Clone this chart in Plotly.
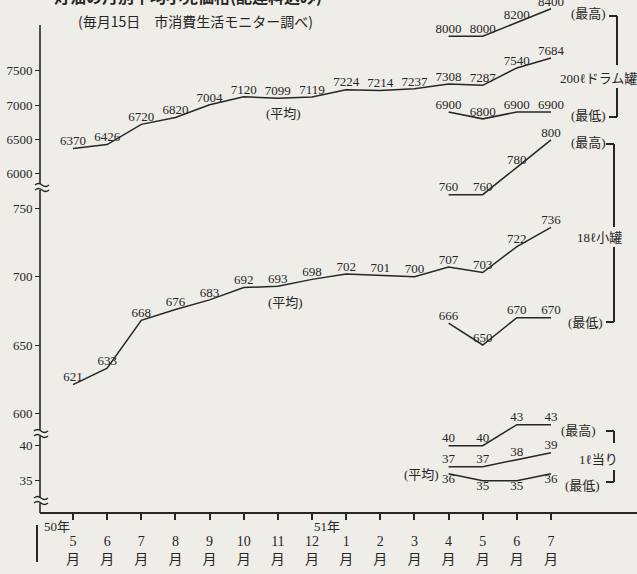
import plotly.graph_objects as go

# ---------------- data ----------------
months = ["5", "6", "7", "8", "9", "10", "11", "12", "1", "2", "3", "4", "5", "6", "7"]
drum_avg = [6370, 6426, 6720, 6820, 7004, 7120, 7099, 7119, 7224, 7214, 7237, 7308, 7287, 7540, 7684]
drum_max = [8000, 8000, 8200, 8400]
drum_min = [6900, 6800, 6900, 6900]
can_avg = [621, 633, 668, 676, 683, 692, 693, 698, 702, 701, 700, 707, 703, 722, 736]
can_max = [760, 760, 780, 800]
can_min = [666, 650, 670, 670]
liter_avg = [37, 37, 38, 39]
liter_max = [40, 40, 43, 43]
liter_min = [36, 35, 35, 36]
drum_ticks = [6000, 6500, 7000, 7500]
can_ticks = [600, 650, 700, 750]
liter_ticks = [35, 40]
year_labels = ["50年", "51年"]

# ---------------- geometry helpers ----------------
W, H = 637, 574
L, R, T, B = 40, 0, 0, 61
PW, PH = W - L - R, H - T - B
INK = "#262626"
BG = "#eeede8"
SERIF = "Liberation Serif, 'Noto Sans CJK JP', serif"
GOTHIC = "'Noto Sans CJK JP', sans-serif"


def fx(px):
    return (px - L) / PW


def fy(py):
    return (T + PH - py) / PH


def val_range(ref_val, ref_px, px_per_unit, top_px, bot_px):
    lo = ref_val - (bot_px - ref_px) / px_per_unit
    hi = ref_val + (ref_px - top_px) / px_per_unit
    return [lo, hi]


n = len(months)
xs = list(range(n))
late = xs[-4:]

# x calibration: first month at px 73, spacing ~34.14
sp = (551 - 73) / 14
x0 = -(73 - L) / sp
x1 = x0 + PW / sp

fig = go.Figure()


def add_line(x, y, axis, pos):
    fig.add_trace(go.Scatter(
        x=x, y=y, yaxis=axis, mode="lines+text",
        line=dict(color=INK, width=1.5),
        text=[str(v) for v in y], textposition=pos,
        textfont=dict(family=SERIF, size=13, color=INK),
        cliponaxis=False, showlegend=False, hoverinfo="skip"))


add_line(xs, drum_avg, "y", "top center")
add_line(late, drum_max, "y", "top center")
add_line(late, drum_min, "y", "top center")
add_line(xs, can_avg, "y2", "top center")
add_line(late, can_max, "y2", "top center")
add_line(late, can_min, "y2", "top center")
add_line(late, liter_avg, "y3", "top center")
add_line(late, liter_max, "y3", "top center")
add_line(late, liter_min, "y3", "bottom center")

yax_common = dict(showline=False, showgrid=False, zeroline=False, ticks="outside",
                  ticklen=5, tickwidth=1.3, tickcolor=INK, anchor="free", position=0,
                  tickfont=dict(family=SERIF, size=13, color=INK), fixedrange=True)

fig.update_layout(
    width=W, height=H, margin=dict(l=L, r=R, t=T, b=B),
    paper_bgcolor=BG, plot_bgcolor="rgba(0,0,0,0)",
    xaxis=dict(range=[x0, x1], tickvals=xs,
               ticktext=[m + "<br>月" for m in months],
               showline=True, linecolor=INK, linewidth=1.6,
               ticks="outside", ticklen=6, tickwidth=1.5, tickcolor=INK,
               showgrid=False, zeroline=False, anchor="free", position=0,
               ticklabelstandoff=9, fixedrange=True,
               tickfont=dict(family=SERIF, size=14, color=INK)),
    yaxis=dict(domain=[fy(182), fy(2)],
               range=val_range(7500, 70.7, 0.0688, 2, 182),
               tickvals=drum_ticks, **yax_common),
    yaxis2=dict(domain=[fy(430), fy(130)],
                range=val_range(750, 208.3, 1.367, 130, 430),
                tickvals=can_ticks, **yax_common),
    yaxis3=dict(domain=[fy(513), fy(415)],
                range=val_range(40, 445.7, 7.0, 415, 513),
                tickvals=liter_ticks, **yax_common),
)

shapes = []


def seg(xa, ya, xb, yb, w=1.6):
    shapes.append(dict(type="line", xref="paper", yref="paper",
                       x0=fx(xa), y0=fy(ya), x1=fx(xb), y1=fy(yb),
                       line=dict(color=INK, width=w)))


def tilde(cx, cy, w=14, a=3):
    xa = cx - w / 2
    p = "M {:.5f},{:.5f} Q {:.5f},{:.5f} {:.5f},{:.5f} T {:.5f},{:.5f}".format(
        fx(xa), fy(cy), fx(xa + w / 4), fy(cy - a), fx(cx), fy(cy), fx(xa + w), fy(cy))
    shapes.append(dict(type="path", xref="paper", yref="paper", path=p,
                       line=dict(color=INK, width=1.4)))


# broken y axis line
seg(40, 25, 40, 184)
seg(40, 190, 40, 430)
seg(40, 436, 40, 498)
seg(40, 503, 40, 513)
tilde(42, 185)
tilde(42, 190)
tilde(41, 431)
tilde(41, 436)
tilde(41, 498)
tilde(41, 503)

# brackets
for (top, m1, m2, bot, bx) in [(16, 65, 88, 117, 617), (144, 227, 247, 322, 614), (431, 443, 470, 482, 614)]:
    seg(bx - 8, top, bx, top, 2)
    seg(bx, top, bx, m1, 2)
    seg(bx, m2, bx, bot, 2)
    seg(bx - 8, bot, bx, bot, 2)

# year divider
seg(37, 525, 37, 562, 2)

fig.update_layout(shapes=shapes)

ann = []


def text(px, py, s, size=13, anchor="center", family=SERIF, bold=False):
    ann.append(dict(x=fx(px), y=fy(py), xref="paper", yref="paper", text=("<b>%s</b>" % s) if bold else s,
                    showarrow=False, xanchor=anchor, yanchor="middle",
                    font=dict(family=family, size=size, color=INK)))


text(283, 113, "(平均)")
text(285, 302, "(平均)")
text(421, 474, "(平均)")
text(588, 13, "(最高)")
text(588, 142, "(最高)")
text(578, 430, "(最高)")
text(588, 115, "(最低)")
text(585, 322, "(最低)")
text(582, 485, "(最低)")
text(558, 78, "200ℓドラム罐", anchor="left")
text(575, 237, "18ℓ小罐", anchor="left")
text(598, 459, "1ℓ当り")
text(76, 21, "(毎月15日　市消費生活モニター調べ)", size=14, anchor="left", family=GOTHIC)
text(52, -4, "灯油の月別平均小売価格(配達料込み)", size=16, anchor="left", family=GOTHIC, bold=True)
text(57, 527, year_labels[0])
text(327, 527, year_labels[1])

fig.update_layout(annotations=ann)

fig.write_html("out.html", config={"displayModeBar": False},
               post_script="document.body.style.margin='0';document.body.style.background='%s';" % BG)
